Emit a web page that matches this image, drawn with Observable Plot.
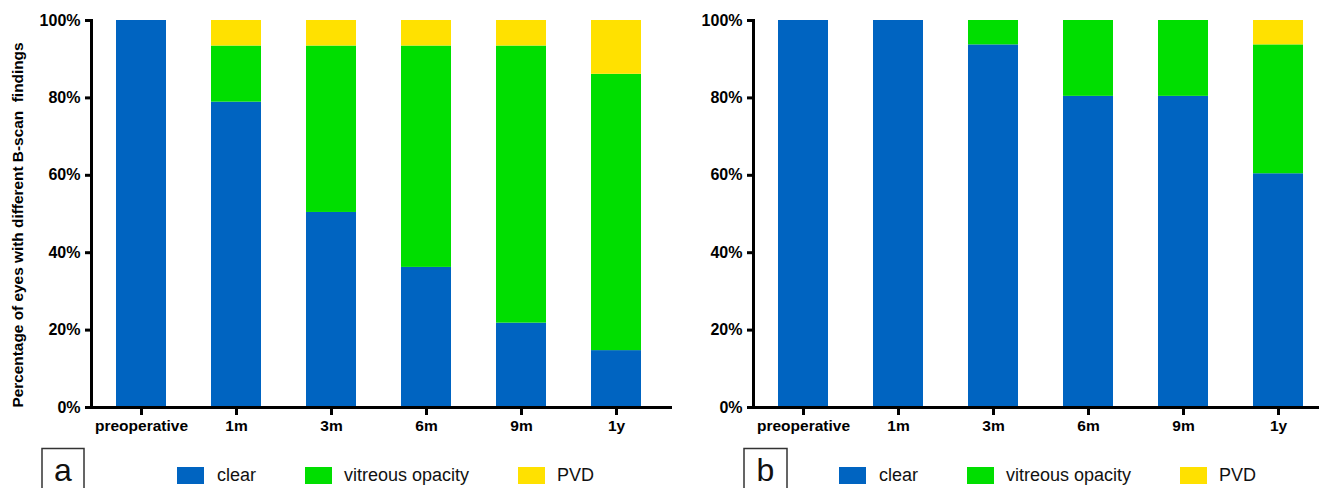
<!DOCTYPE html>
<html>
<head>
<meta charset="utf-8">
<script src="https://cdn.jsdelivr.net/npm/d3@7"></script>
<script src="https://cdn.jsdelivr.net/npm/@observablehq/plot@0.6"></script>
<style>
  html, body { margin: 0; padding: 0; background: #fff; overflow: hidden; }
  #wrap { position: relative; width: 1319px; height: 488px; overflow: hidden; }
  .panel { position: absolute; top: 0; width: 700px; }
  .panel svg { max-width: none !important; }
  #overlay { position: absolute; left: 0; top: 0; }
</style>
</head>
<body>
<div id="wrap">
  <div id="pa" class="panel" style="left:0px"></div>
  <div id="pb" class="panel" style="left:690px"></div>
  <svg id="overlay" width="1319" height="488"></svg>
</div>
<script>
const categories = ["preoperative", "1m", "3m", "6m", "9m", "1y"];
const series = ["clear", "vitreous opacity", "PVD"];
const colors = ["#0064C1", "#00DE00", "#FFE100"];
const yTicks = [0, 20, 40, 60, 80, 100];

// Panel a
const clearA   = [100, 78.9, 50.4, 36.2, 21.8, 14.7];
const opacityA = [0,   14.5, 43.0, 57.2, 71.6, 71.4];
const pvdA     = [0,    6.6,  6.6,  6.6,  6.6, 13.9];
// Panel b
const clearB   = [100, 100, 93.7, 80.4, 80.4, 60.4];
const opacityB = [0,   0,    6.3, 19.6, 19.6, 33.3];
const pvdB     = [0,   0,    0,    0,    0,    6.3];

const FONT = "'Liberation Sans', Arial, Helvetica, sans-serif";

function chart(clear, opacity, pvd, marginLeft) {
  const vals = [clear, opacity, pvd];
  const rows = categories.flatMap((c, i) => series.map((s, k) => ({cat: c, s, v: vals[k][i]})));
  return Plot.plot({
    width: marginLeft + 581 + 18,
    height: 440,
    marginLeft,
    marginRight: 18,
    marginTop: 20,
    marginBottom: 33,
    style: {fontFamily: FONT, fontWeight: "bold", color: "#000", background: "transparent", maxWidth: "none"},
    x: {domain: categories, paddingInner: 0.474, paddingOuter: 0.29, align: 0.45, label: null},
    y: {domain: [0, 100], label: null},
    color: {domain: series, range: colors},
    marks: [
      Plot.barY(rows, {x: "cat", y: "v", fill: "s", z: "s", order: series}),
      Plot.axisY({ticks: yTicks, tickFormat: d => d + "%", tickSize: 6, tickPadding: 5,
                  strokeWidth: 3, fontSize: 16, label: null, stroke: "#000"}),
      Plot.axisX({tickSize: 8, tickPadding: 4, strokeWidth: 3, fontSize: 15.5, label: null, stroke: "#000"}),
      Plot.frame({anchor: "left", strokeWidth: 3, stroke: "#000"}),
      Plot.ruleY([0], {strokeWidth: 3, stroke: "#000"})
    ]
  });
}

document.getElementById("pa").appendChild(chart(clearA, opacityA, pvdA, 91));
document.getElementById("pb").appendChild(chart(clearB, opacityB, pvdB, 63));

// Overlay: y label and legends
const ov = d3.select("#overlay");
ov.append("text")
  .attr("transform", "translate(23,225) rotate(-90)")
  .attr("text-anchor", "middle")
  .attr("font-family", FONT).attr("font-weight", "bold").attr("font-size", 15.4)
  .attr("fill", "#000")
  .text("Percentage of eyes with different B-scan\u00a0 findings");

function legend(letter, boxX, boxW, offset) {
  ov.append("rect").attr("x", boxX).attr("y", 448.5).attr("width", boxW).attr("height", 60)
    .attr("fill", "none").attr("stroke", "#333").attr("stroke-width", 1.5);
  ov.append("text").attr("x", boxX + boxW / 2).attr("y", 481).attr("text-anchor", "middle")
    .attr("font-family", FONT).attr("font-size", 32).attr("fill", "#111").text(letter);
  const swX = [177, 305, 518];
  const txX = [217, 344, 557];
  series.forEach((s, i) => {
    ov.append("rect").attr("x", swX[i] + offset).attr("y", 467).attr("width", 27).attr("height", 17)
      .attr("fill", colors[i]);
    ov.append("text").attr("x", txX[i] + offset).attr("y", 481)
      .attr("font-family", FONT).attr("font-size", 18).attr("fill", "#111").text(s);
  });
}
legend("a", 42, 42, 0);
legend("b", 744, 43, 662);
</script>
</body>
</html>
